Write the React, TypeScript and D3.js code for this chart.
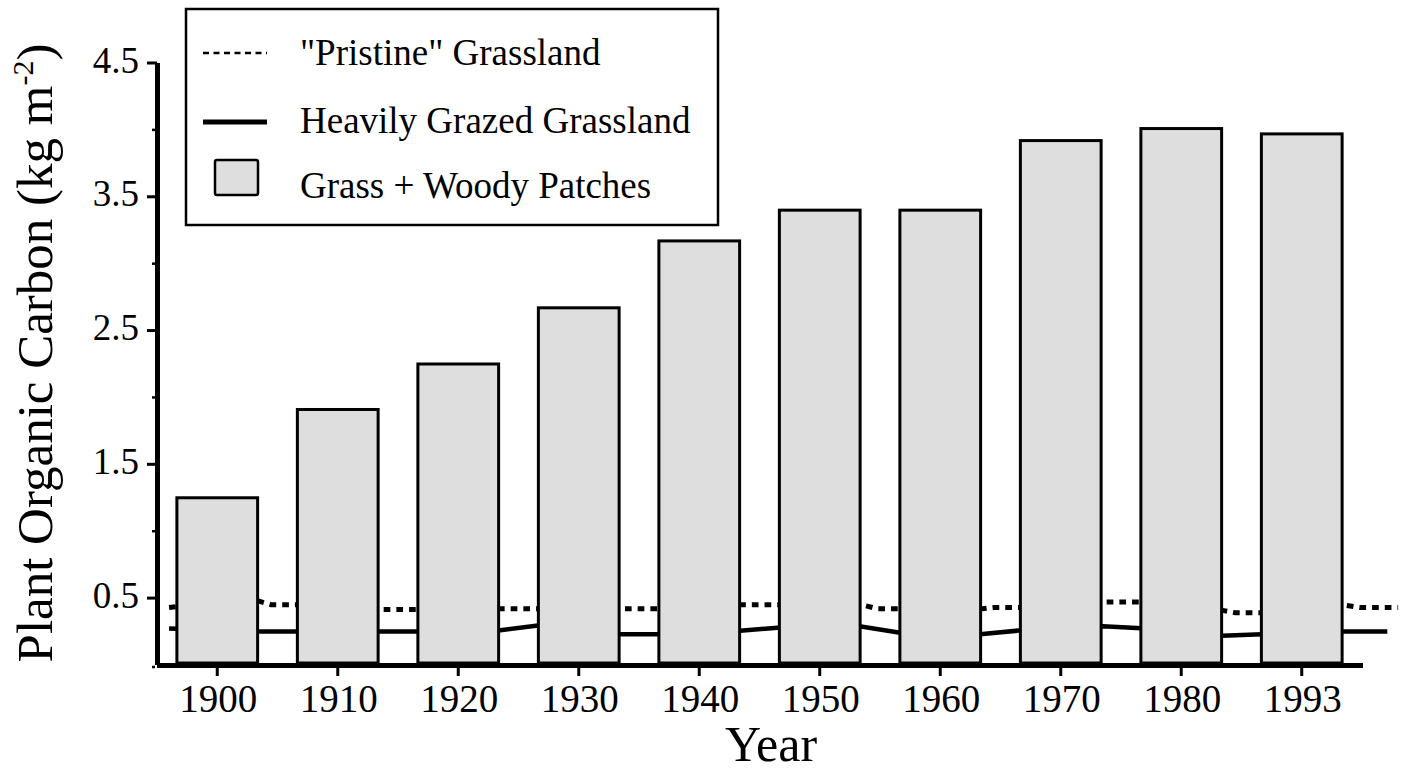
import React from 'react';
import * as d3 from 'd3';

const CATEGORIES = ['1900', '1910', '1920', '1930', '1940', '1950', '1960', '1970', '1980', '1993'];
const WOODY = [1.25, 1.91, 2.25, 2.67, 3.17, 3.4, 3.4, 3.92, 4.01, 3.97];

const PRISTINE_YEARS = [1896, 1903, 1904.5, 1906.6, 1913, 1917, 1923, 1927, 1933, 1937, 1943, 1953.5, 1954.8, 1963.5, 1964.5, 1967, 1973, 1977, 1983.3, 1984.5, 1987, 1993.3, 1994.8, 1998];
const PRISTINE_VALUES = [0.43, 0.49, 0.45, 0.45, 0.415, 0.415, 0.42, 0.42, 0.42, 0.42, 0.45, 0.45, 0.42, 0.42, 0.43, 0.43, 0.47, 0.47, 0.41, 0.39, 0.39, 0.45, 0.43, 0.43];

const GRAZED_YEARS = [1896, 1903.4, 1906.6, 1913.3, 1916.7, 1923.5, 1926.6, 1933.4, 1936.6, 1943.4, 1946.5, 1953.3, 1956.8, 1963.3, 1966.8, 1973.5, 1976.7, 1983.4, 1986.7, 1993.4, 1997.1];
const GRAZED_VALUES = [0.273, 0.25, 0.25, 0.25, 0.25, 0.26, 0.295, 0.23, 0.23, 0.256, 0.279, 0.29, 0.24, 0.23, 0.26, 0.29, 0.275, 0.218, 0.23, 0.25, 0.25];

const Y_MAJOR = [0.5, 1.5, 2.5, 3.5, 4.5];
const Y_MINOR = [0, 1, 2, 3, 4];

const LEGEND = ['"Pristine" Grassland', 'Heavily Grazed Grassland', 'Grass + Woody Patches'];

const FONT = 'Liberation Serif, DejaVu Serif, Times New Roman, Times, serif';

export default function App() {
  const W = 1411, H = 768;
  const x = d3.scaleBand<string>().domain(CATEGORIES).range([157, 1362]).paddingInner(0.33).paddingOuter(0.165);
  const y = d3.scaleLinear().domain([0, 4.5]).range([665, 63]);
  const bw = x.bandwidth();
  const cx = (c: string) => (x(c) as number) + bw / 2;
  const xYear = d3.scaleLinear().domain([1900, 1990]).range([cx(CATEGORIES[0]), cx(CATEGORIES[CATEGORIES.length - 1])]);

  const line = d3.line<[number, number]>().x(d => xYear(d[0])).y(d => y(d[1]));
  const pristine = PRISTINE_YEARS.map((yr, i) => [yr, PRISTINE_VALUES[i]] as [number, number]);
  const grazed = GRAZED_YEARS.map((yr, i) => [yr, GRAZED_VALUES[i]] as [number, number]);

  return (
    <div style={{ position: 'fixed', left: 0, top: 0 }}>
      <svg width={W} height={H} style={{ display: 'block', background: '#fff', fontFamily: FONT }}>
        <rect x={0} y={0} width={W} height={H} fill="#fff" />
        {/* lines beneath bars */}
        <path d={line(pristine) || ''} fill="none" stroke="#000" strokeWidth={5} strokeDasharray="6.7 6" />
        <path d={line(grazed) || ''} fill="none" stroke="#000" strokeWidth={4.5} />
        {/* bars */}
        {CATEGORIES.map((c, i) => (
          <rect key={c} x={x(c)} y={y(WOODY[i])} width={bw} height={y(0) - 2 - y(WOODY[i])}
            fill="#dedede" stroke="#000" strokeWidth={3} />
        ))}
        {/* y axis */}
        <line x1={157.5} x2={157.5} y1={y(4.5)} y2={y(0)} stroke="#000" strokeWidth={5} />
        {Y_MAJOR.map(v => (
          <g key={'M' + v}>
            <line x1={147} x2={157} y1={y(v)} y2={y(v)} stroke="#000" strokeWidth={3} />
            <text x={139} y={y(v) + 9.5} textAnchor="end" fontSize={37} style={{ fontFamily: FONT }}>{v.toFixed(1)}</text>
          </g>
        ))}
        {Y_MINOR.map(v => (
          <line key={'m' + v} x1={152} x2={155} y1={y(v) + (v === 0 ? 2 : 0)} y2={y(v) + (v === 0 ? 2 : 0)} stroke="#000" strokeWidth={2.5} />
        ))}
        {/* x axis */}
        <line x1={157} x2={1363} y1={665.5} y2={665.5} stroke="#000" strokeWidth={5} />
        {CATEGORIES.map(c => (
          <g key={'t' + c}>
            <line x1={cx(c)} x2={cx(c)} y1={668} y2={676} stroke="#000" strokeWidth={3} />
            <text x={cx(c) + 1} y={712} textAnchor="middle" fontSize={39} style={{ fontFamily: FONT }}>{c}</text>
          </g>
        ))}
        {/* axis titles */}
        <text x={771} y={761} textAnchor="middle" fontSize={50} style={{ fontFamily: FONT }}>Year</text>
        <text transform="translate(52,353) rotate(-90)" textAnchor="middle" fontSize={51} style={{ fontFamily: FONT }}>
          Plant Organic Carbon (kg m<tspan fontSize={30} dy={-19}>-2</tspan><tspan dy={19}>)</tspan>
        </text>
        {/* legend */}
        <rect x={186} y={9} width={532} height={216} fill="#fff" stroke="#000" strokeWidth={2.5} />
        <line x1={203} x2={267} y1={53} y2={53} stroke="#000" strokeWidth={2.5} strokeDasharray="6 4.5" />
        <line x1={203} x2={267} y1={122} y2={122} stroke="#000" strokeWidth={5} />
        <rect x={215} y={160} width={43} height={35} rx={2} fill="#dedede" stroke="#000" strokeWidth={2.5} />
        {LEGEND.map((t, i) => (
          <text key={t} x={300} y={[65, 133, 198][i]} fontSize={37} style={{ fontFamily: FONT }}>{t}</text>
        ))}
      </svg>
    </div>
  );
}
